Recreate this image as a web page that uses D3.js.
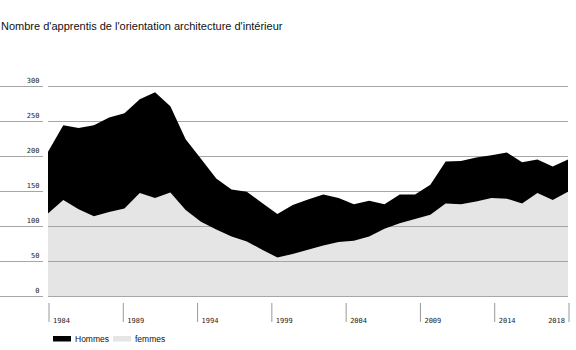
<!DOCTYPE html>
<html><head><meta charset="utf-8">
<script src="https://cdn.jsdelivr.net/npm/d3@7"></script>
<style>body{margin:0;background:#fff}svg{display:block}</style>
</head><body><svg id="c" width="576" height="350"></svg>
<script>
const years = d3.range(1984, 2019);
const femmes = [118,137,124,114,120,125,147,140,148,123,106,95,85,78,66,55,60,66,72,77,79,85,96,104,110,116,132,131,135,140,139,132,147,137,149];
const hommes = [88,107,116,130,135,136,134,151,123,101,90,73,67,71,67,62,70,72,73,63,52,51,35,41,35,43,60,62,63,61,66,59,48,48,46];
const yTicks = [0,50,100,150,200,250,300];
const xTickLabels = ["1984","1989","1994","1999","2004","2009","2014","2018"];
const seriesNames = ["Hommes","femmes"];
const colors = {Hommes:"#000000", femmes:"#e5e5e5"};

const svg = d3.select("#c");
const L = 48, R = 568, T = 86, B = 296;
const x = d3.scaleLinear().domain([1984, 2018]).range([L, R]);
const xt = d3.scalePoint().domain(xTickLabels).range([L, R]);
const y = d3.scaleLinear().domain([0, 300]).range([B, T]);

const rows = years.map((yr,i)=>({year:yr, femmes:femmes[i], Hommes:hommes[i]}));
const stack = d3.stack().keys(["femmes","Hommes"])(rows);

svg.append("text").attr("x",1).attr("y",29.5)
  .attr("font-family","Liberation Sans, Arial, sans-serif").attr("font-size",11)
  .attr("fill","#111").text("Nombre d'apprentis de l'orientation architecture d'intérieur");

const area = d3.area().x(d=>x(d.data.year)).y0(d=>y(d[0])).y1(d=>y(d[1]));
svg.append("path").datum(stack[0]).attr("d",area).attr("fill",colors.femmes);

const g = svg.append("g");
yTicks.forEach(v=>{
  g.append("line").attr("x1",0).attr("x2",43).attr("y1",y(v)+0.5).attr("y2",y(v)+0.5).attr("stroke","#a6a6a6").attr("stroke-width",1);
  g.append("line").attr("x1",L).attr("x2",R).attr("y1",y(v)+0.5).attr("y2",y(v)+0.5).attr("stroke","#a6a6a6").attr("stroke-width",1);
  g.append("text").attr("x",39.5).attr("y",y(v)-3.5).attr("text-anchor","end")
    .attr("font-family","DejaVu Sans Mono, monospace").attr("font-size",7).attr("fill","#222").text(v);
});

svg.append("path").datum(stack[1]).attr("d",area).attr("fill",colors.Hommes);

const xa = svg.append("g").attr("transform","translate(0,303)")
  .call(d3.axisBottom(xt).tickSize(19).tickPadding(0));
xa.select(".domain").remove();
xa.selectAll(".tick line").attr("stroke","#999").attr("transform","translate(0.5,0)");
xa.selectAll(".tick text").attr("font-family","DejaVu Sans Mono, monospace").attr("font-size",7).attr("fill","#222")
  .attr("text-anchor",(d,i)=> i===xTickLabels.length-1 ? "end":"start")
  .attr("x",(d,i)=> i===xTickLabels.length-1 ? -3.5 : 4.5)
  .attr("y",19.5).attr("dy",0);

const lg = svg.append("g").attr("font-family","Liberation Sans, Arial, sans-serif").attr("font-size",8.5).attr("fill","#111");
const lx = [53, 113];
seriesNames.forEach((n,i)=>{
  lg.append("rect").attr("x",lx[i]).attr("y",336).attr("width",18).attr("height",5.5).attr("fill",colors[n]);
  lg.append("text").attr("x",lx[i]+22).attr("y",342).text(n);
});
</script></body></html>
